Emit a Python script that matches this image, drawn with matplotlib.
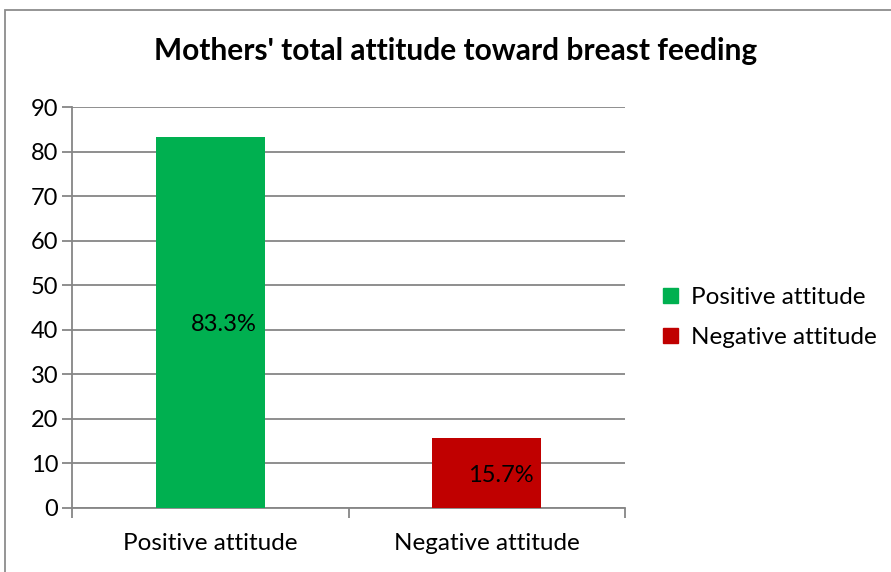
import matplotlib.pyplot as plt
from matplotlib.patches import Rectangle, Patch

plt.rcParams['font.family'] = ['Lato', 'DejaVu Sans']

categories = ['Positive attitude', 'Negative attitude']
values = [83.3, 15.7]
labels = ['83.3%', '15.7%']
colors = ['#00b050', '#c00000']
yticks = [0, 10, 20, 30, 40, 50, 60, 70, 80, 90]

fig = plt.figure(figsize=(8.91, 5.72), dpi=100)
ax = fig.add_axes([0.0808, 0.1119, 0.6207, 0.701])

x = [0, 1]
ax.bar(x, values, width=0.395, color=colors, zorder=3)

for xi, v, lab in zip(x, values, labels):
    ax.text(xi + 0.05, v / 2, lab, ha='center', va='center_baseline', fontsize=17, color='black', zorder=4)

ax.set_xlim(-0.5, 1.5)
ax.set_ylim(0, 90)
ax.set_yticks(yticks)
ax.set_yticklabels([str(t) for t in yticks], fontsize=17)
ax.yaxis.grid(True, color='#868686', linewidth=1.3, zorder=0)
ax.set_axisbelow(True)

ax.set_xticks(x)
ax.set_xticklabels(categories, fontsize=17.5)
ax.tick_params(axis='x', which='major', length=0, pad=18)
ax.set_xticks([-0.5, 0.5, 1.5], minor=True)
ax.tick_params(axis='x', which='minor', length=7, color='#868686', width=1.3)
ax.tick_params(axis='y', length=7, color='#868686', width=1.3, pad=3)

for s in ['top', 'right']:
    ax.spines[s].set_visible(False)
for s in ['left', 'bottom']:
    ax.spines[s].set_color('#868686')
    ax.spines[s].set_linewidth(1.3)

fig.text(0.511, 0.91, "Mothers' total attitude toward breast feeding",
         ha='center', va='center', fontsize=21.5, fontweight='bold')

handles = [Patch(color=c, label=cat) for c, cat in zip(colors, categories)]
fig.legend(handles=handles, loc='center left', bbox_to_anchor=(0.72, 0.445),
           frameon=False, fontsize=17.5, handlelength=0.62, handleheight=0.62,
           handletextpad=0.5, labelspacing=0.78)

fig.patches.append(Rectangle((0.006, -0.1), 1.2, 1.0825, transform=fig.transFigure,
                             fill=False, edgecolor='#8c8c8c', linewidth=1.3))

fig.savefig('out.png', dpi=100)
